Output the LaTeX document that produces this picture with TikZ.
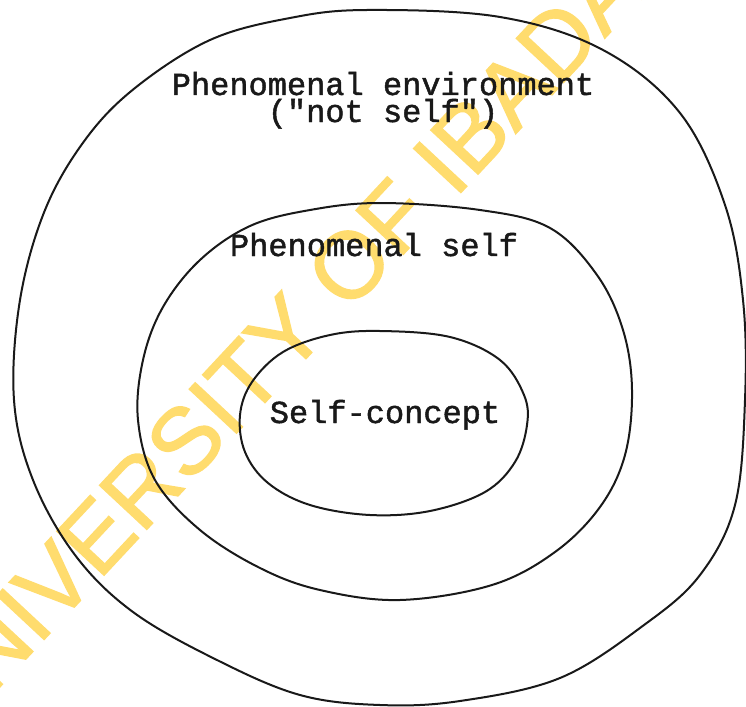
\documentclass[tikz,border=0pt]{standalone}
\usepackage{fontspec}
\newfontfamily\tymono[FakeBold=1.4]{Liberation Mono}
\newfontfamily\wmfont[FakeBold=1.4]{Liberation Sans}
\definecolor{inkc}{RGB}{25,25,25}
\definecolor{wmyellow}{RGB}{255,220,110}
\tikzset{
  ring/.style={draw=inkc, line width=2pt, line join=round},
  lbl/.style={font=\tymono\fontsize{32}{36}\selectfont, text=inkc, anchor=base, inner sep=0pt},
  wmark/.style={font=\wmfont\fontsize{94}{104}\selectfont, text=wmyellow, inner sep=0pt, rotate=47}
}
\begin{document}
\begin{tikzpicture}[x=1pt,y=-1pt]
\useasboundingbox (0,0) rectangle (746,706);
\fill[white] (0,0) rectangle (746,706);
\begin{scope}
\clip (0,0) rectangle (746,706);
\node[wmark] (wm) at (296,322) {UNIVERSITY OF IBADAN};
\end{scope}
% outer region
\draw[ring] plot[smooth cycle, tension=0.6] coordinates {
(367,10) (500,17) (603,50) (680,113) (725,205) (743,300) (745,400) (735,505)
(700,575) (644,625) (560,678) (460,701) (380,705) (300,695) (217,660) (133,612)
(75,555) (33,480) (14,400) (20,300) (45,210) (85,140) (135,88) (210,40) (290,18)};
% middle region
\draw[ring] plot[smooth cycle, tension=0.6] coordinates {
(380,203) (480,210) (550,228) (597,275) (623,330) (632,390) (625,455) (600,507)
(555,552) (492,585) (400,600) (320,590) (260,568) (200,530) (155,480) (138,420)
(143,360) (163,307) (200,260) (250,226) (310,210)};
% inner region
\draw[ring] plot[smooth cycle, tension=0.6] coordinates {
(380,331) (450,337) (500,360) (524,395) (527,425) (515,462) (485,492) (430,511)
(370,515) (310,505) (268,483) (245,452) (240,415) (252,382) (283,352) (330,335)};
\node[lbl] (env) at (383,95) {Phenomenal environment};
\node[lbl] (notself) at (383,122) {("not self")};
\node[lbl] (pself) at (374,256) {Phenomenal self};
\node[lbl] (sconcept) at (385,423) {Self-concept};
\end{tikzpicture}
\end{document}
